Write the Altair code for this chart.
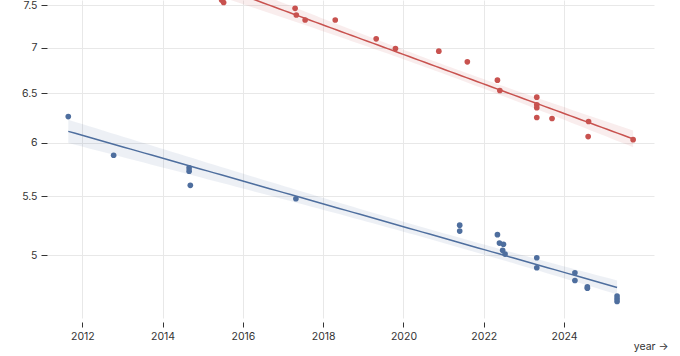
import math
import numpy as np
import pandas as pd
import altair as alt

# ---- data ----
series_names = ["blue", "red"]
series_colors = ["#4e6e9e", "#c8524f"]

blue_year = [2011.65, 2012.78, 2014.66, 2014.66, 2014.69, 2017.32, 2021.40, 2021.40,
             2022.34, 2022.39, 2022.49, 2022.47, 2022.53, 2023.32, 2023.32, 2024.27,
             2024.27, 2024.58, 2024.58, 2025.32, 2025.32, 2025.32]
blue_val = [6.26, 5.88, 5.76, 5.73, 5.60, 5.48, 5.25, 5.20,
            5.17, 5.10, 5.09, 5.04, 5.01, 4.98, 4.90, 4.86,
            4.80, 4.75, 4.74, 4.68, 4.66, 4.64]

red_year = [2015.47, 2015.52, 2017.30, 2017.33, 2017.55, 2018.30, 2019.32, 2019.80,
            2020.88, 2021.59, 2022.34, 2022.40, 2023.32, 2023.32, 2023.32, 2023.32,
            2023.70, 2024.61, 2024.60, 2025.72]
red_val = [7.56, 7.53, 7.46, 7.38, 7.32, 7.32, 7.10, 6.99,
           6.96, 6.84, 6.64, 6.53, 6.46, 6.38, 6.35, 6.25,
           6.24, 6.21, 6.06, 6.03]

x_ticks = [2012, 2014, 2016, 2018, 2020, 2022, 2024]
y_ticks = [5, 5.5, 6, 6.5, 7, 7.5]
x_domain = [2011.12, 2026.24]
y_domain = [4.517, 7.561]


def t_quantile(p, df):
    c = math.exp(math.lgamma((df + 1) / 2) - math.lgamma(df / 2)) / math.sqrt(df * math.pi)

    def cdf(t):
        g = np.linspace(0, t, 4001)
        f = c * (1 + g ** 2 / df) ** (-(df + 1) / 2)
        return 0.5 + np.trapezoid(f, g)

    lo, hi = 0.0, 20.0
    for _ in range(60):
        mid = (lo + hi) / 2
        if cdf(mid) < p:
            lo = mid
        else:
            hi = mid
    return (lo + hi) / 2


def regression(xs, ys, name, ci=0.95, steps=80):
    # fitted in the log-scaled (screen) space, as the reference does
    x = np.asarray(xs, float)
    y = np.log(np.asarray(ys, float))
    n = len(x)
    xm, ym = x.mean(), y.mean()
    sxx = ((x - xm) ** 2).sum()
    b = ((x - xm) * (y - ym)).sum() / sxx
    a = ym - b * xm
    s = math.sqrt(((y - (a + b * x)) ** 2).sum() / (n - 2))
    t = t_quantile((1 + ci) / 2, n - 2)
    gx = np.linspace(x.min(), x.max(), steps)
    fit = a + b * gx
    se = s * np.sqrt(1 / n + (gx - xm) ** 2 / sxx)
    return pd.DataFrame({"year": gx, "fit": np.exp(fit), "lo": np.exp(fit - t * se),
                         "hi": np.exp(fit + t * se), "series": name})


points = pd.concat([
    pd.DataFrame({"year": blue_year, "value": blue_val, "series": "blue"}),
    pd.DataFrame({"year": red_year, "value": red_val, "series": "red"}),
])
reg = pd.concat([regression(blue_year, blue_val, "blue"),
                 regression(red_year, red_val, "red")])

xscale = alt.Scale(domain=x_domain, nice=False, zero=False)
yscale = alt.Scale(type="log", domain=y_domain, nice=False)
color = alt.Color("series:N", scale=alt.Scale(domain=series_names, range=series_colors),
                  legend=None)

xaxis = alt.Axis(values=x_ticks, format="d", title="year →", grid=True, domain=False,
                 tickSize=5, offset=4, labelPadding=4,
                 titleAnchor="end", titleAlign="right", titleBaseline="alphabetic",
                 titleX=621, titleY=27.5, titleFontWeight="normal")
yaxis = alt.Axis(values=y_ticks, format="~g", title=None, grid=True, domain=False,
                 tickSize=6, labelPadding=4)

band = alt.Chart(reg).mark_area(opacity=0.1, clip=True).encode(
    x=alt.X("year:Q", scale=xscale, axis=xaxis),
    y=alt.Y("lo:Q", scale=yscale, axis=yaxis),
    y2="hi:Q",
    color=color,
)
line = alt.Chart(reg).mark_line(strokeWidth=1.5, clip=True).encode(
    x=alt.X("year:Q", scale=xscale, axis=xaxis),
    y=alt.Y("fit:Q", scale=yscale, axis=yaxis),
    color=color,
)
dots = alt.Chart(points).mark_circle(size=32, opacity=1, clip=True).encode(
    x=alt.X("year:Q", scale=xscale, axis=xaxis),
    y=alt.Y("value:Q", scale=yscale, axis=yaxis),
    color=color,
)

chart = alt.layer(band, line, dots).properties(
    width=607, height=318,
    autosize=alt.AutoSizeParams(type="none"),
    padding={"left": 47, "top": 0, "right": 26, "bottom": 38},
).configure_view(stroke=None).configure_axis(
    labelFont="Inter", titleFont="Inter", labelFontSize=10.5, titleFontSize=10.5,
    labelColor="#333", titleColor="#333", tickColor="#333",
    gridColor="#e8e8e8", gridOpacity=1,
)

chart.save("out.html", embed_options={"renderer": "svg", "actions": False})
